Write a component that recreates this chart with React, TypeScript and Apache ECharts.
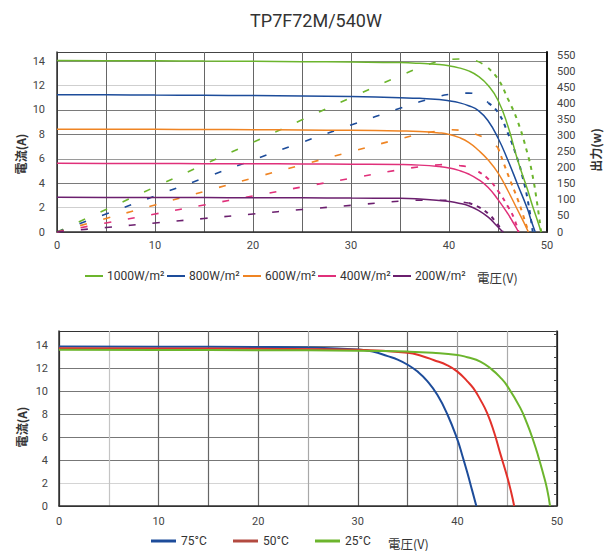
import React, { useEffect, useRef } from 'react';
import * as echarts from 'echarts';

// ---------- Top chart: I-V (left axis, A) and P-V (right axis, W) ----------
const IRR_NAMES = ['1000W/m²', '800W/m²', '600W/m²', '400W/m²', '200W/m²'];

const V_1000 = [0, 5, 10, 15, 20, 25, 30, 35, 37, 39, 40, 41, 42, 43, 44, 45, 46, 47, 48, 48.5, 49, 49.4];
const I_1000 = [14.05, 14.04, 14.03, 14.01, 13.99, 13.96, 13.93, 13.88, 13.82, 13.72, 13.62, 13.45, 13.2, 12.75, 12.0, 10.8, 8.7, 5.9, 3.5, 2.2, 1.0, 0];
const V_800 = [0, 5, 10, 15, 20, 25, 30, 35, 37, 39, 40, 41, 42, 43, 44, 45, 46, 47, 48, 48.4, 48.8];
const I_800 = [11.25, 11.24, 11.22, 11.2, 11.18, 11.15, 11.1, 11.0, 10.95, 10.85, 10.75, 10.6, 10.35, 9.95, 9.1, 7.7, 5.9, 3.9, 1.9, 0.9, 0];
const V_600 = [0, 5, 10, 15, 20, 25, 30, 35, 37, 39, 40, 41, 42, 43, 44, 45, 46, 47, 47.6, 48.1];
const I_600 = [8.43, 8.42, 8.41, 8.4, 8.38, 8.36, 8.33, 8.28, 8.24, 8.12, 8.0, 7.75, 7.35, 6.7, 5.9, 4.85, 3.4, 1.8, 0.85, 0];
const V_400 = [0, 5, 10, 15, 20, 25, 30, 35, 37, 39, 40, 41, 42, 43, 44, 45, 46, 46.6, 47.1];
const I_400 = [5.63, 5.62, 5.61, 5.6, 5.59, 5.58, 5.56, 5.53, 5.48, 5.36, 5.25, 5.05, 4.75, 4.3, 3.65, 2.65, 1.5, 0.7, 0];
const V_200 = [0, 5, 10, 15, 20, 25, 30, 35, 37, 39, 40, 41, 42, 43, 44, 44.8, 45.5];
const I_200 = [2.84, 2.83, 2.83, 2.82, 2.81, 2.8, 2.78, 2.76, 2.7, 2.58, 2.5, 2.36, 2.15, 1.78, 1.22, 0.58, 0];

const PV_1000 = [0, 5, 10, 15, 20, 25, 30, 35, 37, 39, 40, 41, 42, 43, 44, 45, 46, 47, 48, 48.5, 49, 49.4];
const P_1000 = [0, 70, 140, 210, 279, 349, 418, 486, 511, 531, 536, 538, 537, 530, 510, 476, 415, 345, 245, 180, 88, 0];
const PV_800 = [0, 5, 10, 15, 20, 25, 30, 35, 37, 39, 40, 41, 42, 43, 44, 45, 46, 47, 47.5, 48, 48.55];
const P_800 = [0, 56, 112, 168, 224, 279, 333, 385, 405, 422, 428, 431, 432, 424, 402, 372, 308, 226, 172, 105, 0];
const PV_600 = [0, 5, 10, 15, 20, 25, 30, 35, 37, 39, 40, 41, 42, 43, 44, 45, 46, 47, 47.5, 48.1];
const P_600 = [0, 42, 84, 126, 168, 209, 250, 290, 304, 315, 318, 317, 311, 301, 286, 262, 180, 102, 58, 0];
const PV_400 = [0, 5, 10, 15, 20, 25, 30, 35, 37, 39, 40, 41, 42, 43, 44, 45, 46, 46.6, 47.1];
const P_400 = [0, 28, 56, 84, 112, 140, 167, 194, 203, 209, 210, 207, 201, 188, 165, 128, 80, 45, 0];
const PV_200 = [0, 5, 10, 15, 20, 25, 30, 35, 37, 39, 40, 41, 42, 43, 44, 44.8, 45.5];
const P_200 = [0, 14, 28, 42, 56, 70, 83, 96, 99, 99, 98, 95, 90, 78, 57, 30, 0];

// ---------- Bottom chart: I-V by temperature ----------
const TEMP_NAMES = ['75°C', '50°C', '25°C'];
const VT_75 = [0, 10, 20, 25, 30, 31.5, 33, 34, 35, 36, 37, 38, 39, 40, 40.5, 41, 41.5, 41.9];
const IT_75 = [13.95, 13.93, 13.9, 13.85, 13.68, 13.5, 13.1, 12.8, 12.35, 11.75, 10.9, 9.7, 8.0, 5.8, 4.4, 2.9, 1.3, 0];
const VT_50 = [0, 10, 20, 30, 35, 36.5, 37.6, 39, 40, 41, 41.6, 42.3, 43, 43.7, 44.3, 45, 45.4, 45.7];
const IT_50 = [13.8, 13.78, 13.75, 13.66, 13.4, 13.1, 12.77, 12.3, 11.75, 10.9, 10.3, 9.3, 8.1, 6.4, 4.6, 2.56, 1.2, 0];
const VT_25 = [0, 10, 20, 30, 35, 37.5, 40, 41, 42.3, 43.5, 44.3, 45, 46.3, 47, 47.6, 48.1, 48.6, 49, 49.3];
const IT_25 = [13.65, 13.64, 13.62, 13.58, 13.5, 13.4, 13.21, 13.0, 12.63, 11.9, 11.25, 10.5, 8.6, 7.2, 5.77, 4.4, 2.86, 1.5, 0];

const IRR_COLORS = ['#6cb52d', '#1d4c9a', '#ef8423', '#e0307a', '#6b1f6e'];
const TEMP_COLORS = ['#1d4c9a', '#e2312a', '#6cb52d'];
const TEMP_LEGEND_COLORS = ['#1d4c9a', '#b34a40', '#6cb52d'];

const pair = (xs: number[], ys: number[]) => xs.map((x, i) => [x, ys[i]]);

const FONT = 'Roboto, "DejaVu Sans", sans-serif';
const CJK = '"Noto Sans CJK JP", sans-serif';

export default function App() {
  const ref = useRef<HTMLDivElement>(null);
  useEffect(() => {
    if (!ref.current) return;
    const chart = echarts.init(ref.current, null, { renderer: 'svg' });

    const ivSets = [
      pair(V_1000, I_1000), pair(V_800, I_800), pair(V_600, I_600), pair(V_400, I_400), pair(V_200, I_200),
    ];
    const pvSets = [
      pair(PV_1000, P_1000), pair(PV_800, P_800), pair(PV_600, P_600), pair(PV_400, P_400), pair(PV_200, P_200),
    ];
    const denseFrom = [44, 44, 45, 43, 42];
    const tSets = [pair(VT_75, IT_75), pair(VT_50, IT_50), pair(VT_25, IT_25)];
    const SMOOTH = 0.5;

    const series: any[] = [];
    IRR_NAMES.forEach((name, k) => {
      series.push({
        name, type: 'line', xAxisIndex: 0, yAxisIndex: 0, data: ivSets[k],
        showSymbol: false, symbol: 'none', smooth: SMOOTH,
        itemStyle: { color: IRR_COLORS[k] },
        lineStyle: { color: IRR_COLORS[k], width: 1.5 },
        z: 3,
      });
    });
    IRR_NAMES.forEach((name, k) => {
      const d = pvSets[k];
      series.push({
        name: name + ' P', type: 'line', xAxisIndex: 0, yAxisIndex: 1,
        data: d.filter((p) => p[0] <= denseFrom[k]),
        symbol: 'none', smooth: SMOOTH,
        itemStyle: { color: IRR_COLORS[k] },
        lineStyle: { color: IRR_COLORS[k], width: 1.6, type: [7, 17] },
        z: 2,
      });
      series.push({
        name: name + ' P2', type: 'line', xAxisIndex: 0, yAxisIndex: 1,
        data: d.filter((p) => p[0] >= denseFrom[k]),
        symbol: 'none', smooth: SMOOTH,
        itemStyle: { color: IRR_COLORS[k] },
        lineStyle: { color: IRR_COLORS[k], width: 2, type: [4, 5] },
        z: 2,
      });
    });
    TEMP_NAMES.forEach((name, k) => {
      series.push({
        name, type: 'line', xAxisIndex: 1, yAxisIndex: 2, data: tSets[k],
        symbol: 'none', smooth: SMOOTH,
        itemStyle: { color: TEMP_COLORS[k] },
        lineStyle: { color: TEMP_COLORS[k], width: 2 },
        z: 3,
      });
    });

    const labelStyle = { fontFamily: FONT, fontSize: 11, color: '#444' };
    const tenOnly = (v: number) => (v % 10 === 0 ? String(v) : '');

    const topLegendLefts = [85, 167, 243, 318, 393];
    const botLegendLefts = [151, 233, 315];

    const legends: any[] = [];
    IRR_NAMES.forEach((name, k) => {
      legends.push({
        data: [name], left: topLegendLefts[k], top: 270, padding: 0, itemGap: 0,
        icon: 'rect', itemWidth: 18, itemHeight: 2, selectedMode: false,
        itemStyle: { borderWidth: 0 },
        textStyle: { fontFamily: FONT, fontSize: 12, color: '#333', padding: [0, 0, 0, -1] },
      });
    });
    TEMP_NAMES.forEach((name, k) => {
      legends.push({
        data: [{ name, itemStyle: { color: TEMP_LEGEND_COLORS[k] } }],
        left: botLegendLefts[k], top: 535, padding: 0, itemGap: 0,
        icon: 'rect', itemWidth: 25, itemHeight: 3, selectedMode: false,
        itemStyle: { borderWidth: 0 },
        textStyle: { fontFamily: FONT, fontSize: 12, color: '#333' },
      });
    });

    const option: any = {
      animation: false,
      backgroundColor: '#ffffff',
      title: {
        text: 'TP7F72M/540W', left: 311, top: 6, textAlign: 'center',
        textStyle: { fontFamily: FONT, fontSize: 18, fontWeight: 'normal', color: '#333' },
      },
      legend: legends,
      grid: [
        { left: 57, top: 52, width: 490, height: 180 },
        { left: 59, top: 331, width: 498, height: 175 },
      ],
      xAxis: [
        {
          type: 'value', gridIndex: 0, min: 0, max: 50, interval: 5,
          axisLine: { show: true, lineStyle: { color: '#333', width: 1.5 } },
          axisTick: { show: false },
          axisLabel: { ...labelStyle, margin: 8, formatter: tenOnly },
          splitLine: { show: true, lineStyle: { color: ['#444', '#666', '#666', '#666', '#666', '#666', '#666', '#666', '#666', '#666', '#222'], width: 1 } },
        },
        {
          type: 'value', gridIndex: 1, min: 0, max: 50, interval: 5,
          axisLine: { show: true, lineStyle: { color: '#333', width: 1.5 } },
          axisTick: { show: false },
          axisLabel: { ...labelStyle, margin: 10, formatter: tenOnly },
          splitLine: { show: true, lineStyle: { color: ['#333', '#c4c4c4', '#666', '#666', '#666', '#a8a8a8', '#555', '#666', '#9a9a9a', '#ababab', '#222'], width: 1.2 } },
        },
      ],
      yAxis: [
        {
          type: 'value', gridIndex: 0, min: 0, max: 14.75, interval: 2, position: 'left',
          axisLine: { show: true, lineStyle: { color: '#333', width: 1.5 } },
          axisTick: { show: false },
          axisLabel: { ...labelStyle, margin: 12, showMaxLabel: false },
          splitLine: { show: true, lineStyle: { color: ['#555', '#cfcfcf', '#7a7a7a', '#9a9a9a', '#7a7a7a', '#7a7a7a', '#cfcfcf', '#888', '#444'], width: 1.2 } },
        },
        {
          type: 'value', gridIndex: 0, min: 0, max: 560, interval: 50, position: 'right',
          axisLine: { show: true, lineStyle: { color: '#111', width: 2 } },
          axisTick: { show: false },
          axisLabel: { ...labelStyle, margin: 10, showMaxLabel: false },
          splitLine: { show: false },
        },
        {
          type: 'value', gridIndex: 1, min: 0, max: 15.3, interval: 2, position: 'left',
          axisLine: { show: true, lineStyle: { color: '#333', width: 1.5 } },
          axisTick: { show: false },
          axisLabel: { ...labelStyle, margin: 11, showMaxLabel: false },
          splitLine: { show: true, lineStyle: { color: ['#333', '#d4d4d4', '#777', '#777', '#777', '#777', '#777', '#777', '#333'], width: 1.2 } },
        },
        {
          type: 'value', gridIndex: 1, min: 0, max: 15.3, interval: 1, position: 'right',
          axisLine: { show: true, lineStyle: { color: '#222', width: 1.5 } },
          axisTick: { show: true, inside: true, length: 3, lineStyle: { color: '#444' } },
          axisLabel: { show: false },
          splitLine: { show: false },
        },
      ],
      graphic: [
        { type: 'text', x: 20, y: 154, rotation: Math.PI / 2, style: { text: '電流(A)', fontFamily: CJK, fontSize: 12, fontWeight: 'bold', fill: '#333', align: 'center', verticalAlign: 'middle' } },
        { type: 'text', x: 595, y: 150, rotation: Math.PI / 2, style: { text: '出力(w)', fontFamily: CJK, fontSize: 12, fontWeight: 'bold', fill: '#333', align: 'center', verticalAlign: 'middle' } },
        { type: 'text', x: 21, y: 427, rotation: Math.PI / 2, style: { text: '電流(A)', fontFamily: CJK, fontSize: 12, fontWeight: 'bold', fill: '#333', align: 'center', verticalAlign: 'middle' } },
        { type: 'text', x: 477, y: 277, style: { text: '電圧(V)', fontFamily: CJK, fontSize: 12.5, fill: '#333', align: 'left', verticalAlign: 'middle' } },
        { type: 'text', x: 388, y: 543, style: { text: '電圧(V)', fontFamily: CJK, fontSize: 12.5, fill: '#333', align: 'left', verticalAlign: 'middle' } },
      ],
      series,
    };

    chart.setOption(option);
    return () => chart.dispose();
  }, []);
  return <div ref={ref} style={{ position: 'absolute', left: 0, top: 0, width: 616, height: 551 }} />;
}
